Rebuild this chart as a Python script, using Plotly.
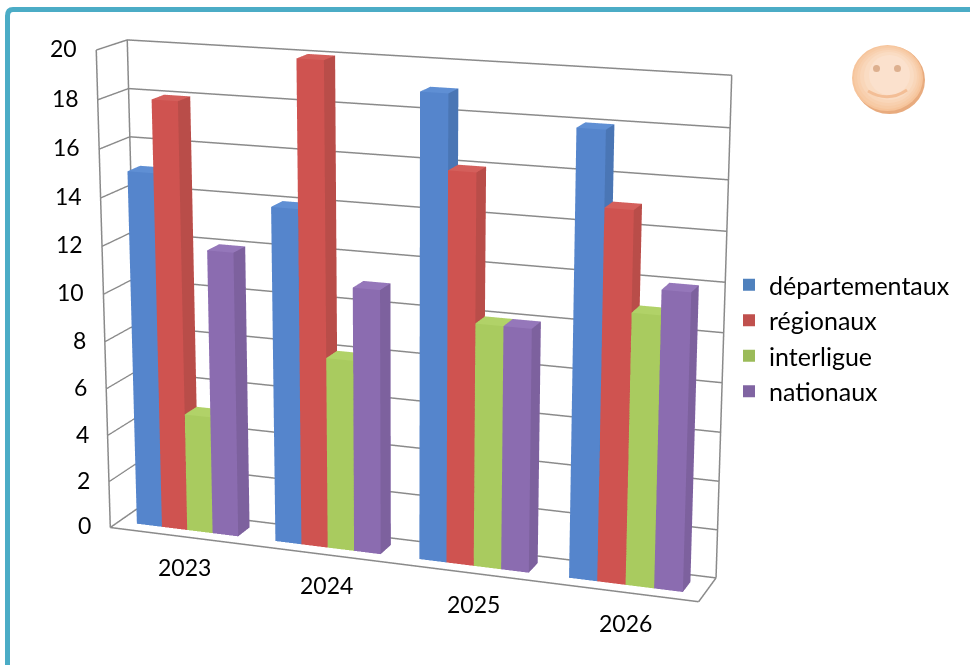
import math
import plotly.graph_objects as go

categories = ["2023", "2024", "2025", "2026"]
series_names = ["départementaux", "régionaux", "interligue", "nationaux"]
departementaux = [15, 14, 19, 18]
regionaux = [18, 20, 16, 15]
interligue = [5, 8, 10, 11]
nationaux = [12, 11, 10, 12]
z_ticks = [0, 2, 4, 6, 8, 10, 12, 14, 16, 18, 20]

series_values = [departementaux, regionaux, interligue, nationaux]
front = ["#5585CC", "#CF5350", "#A9CB5F", "#8B6CB0"]
side = ["#4A76B5", "#B94D49", "#97B655", "#7D619E"]
top = ["#5F8FD4", "#D45F5B", "#B1D268", "#9577BA"]
legend_col = ["#4F81BD", "#C0504D", "#9BBB59", "#8064A2"]
GAP = 0.265
BW = (1 - GAP) / 4
Y0, Y1 = 0.29, 0.71
FONT = "Lato"
GRID = "#8a8a8a"
ZMAX = z_ticks[-1]
NC = len(categories)

# The 3-D view has a long lens, so the plot area is larger than the window and is
# slid under it; page-pixel positions are converted to paper fractions with these.
PLOT_W, PLOT_H = 1200, 2212
OFF_X, OFF_Y = -195, -793
AZ, EL, DIST = 0.352, 0.255, 2.669


def px(x):
    return (x - OFF_X) / PLOT_W


def py(y):
    return 1 - (y - OFF_Y) / PLOT_H


def bar_mesh(s, cat, val):
    x0 = cat + GAP / 2 + s * BW
    x1 = x0 + BW
    xs = [x0, x1, x1, x0, x0, x1, x1, x0]
    ys = [Y0, Y0, Y1, Y1, Y0, Y0, Y1, Y1]
    zs = [0, 0, 0, 0, val, val, val, val]
    tri = [
        (0, 1, 5, front[s]), (0, 5, 4, front[s]),
        (1, 2, 6, side[s]), (1, 6, 5, side[s]),
        (4, 5, 6, top[s]), (4, 6, 7, top[s]),
        (3, 2, 6, front[s]), (3, 6, 7, front[s]),
        (0, 3, 7, front[s]), (0, 7, 4, front[s]),
    ]
    return go.Mesh3d(
        x=xs, y=ys, z=zs,
        i=[t[0] for t in tri], j=[t[1] for t in tri], k=[t[2] for t in tri],
        facecolor=[t[3] for t in tri], flatshading=True,
        lighting=dict(ambient=1, diffuse=0, specular=0, roughness=1, fresnel=0),
        hoverinfo="skip", showlegend=False, showscale=False,
    )


fig = go.Figure()
for s in range(4):
    for c in range(NC):
        fig.add_trace(bar_mesh(s, c, series_values[s][c]))

# frame of the box
edges = [
    ([0, NC], [0, 0], [0, 0]),
    ([NC, NC], [0, 1], [0, 0]),
    ([0, 0], [0, 1], [0, 0]),
    ([0, 0], [0, 0], [0, ZMAX]),
    ([0, 0], [1, 1], [0, ZMAX]),
    ([NC, NC], [1, 1], [0, ZMAX]),
    ([0, 0], [0, 1], [ZMAX, ZMAX]),
    ([0, NC], [1, 1], [ZMAX, ZMAX]),
    ([0, NC], [1, 1], [0, 0]),
]
for ex, ey, ez in edges:
    fig.add_trace(go.Scatter3d(x=ex, y=ey, z=ez, mode="lines",
                               line=dict(color=GRID, width=3),
                               hoverinfo="skip", showlegend=False))

# legend entries
for n, c in zip(series_names, legend_col):
    fig.add_trace(go.Scatter3d(x=[None], y=[None], z=[None], mode="markers", name=n,
                               marker=dict(symbol="square", size=18, color=c)))

annots = []
for t in z_ticks:
    annots.append(dict(x=0, y=0, z=t, text=str(t), showarrow=False, xanchor="right",
                       yanchor="middle", xshift=-17, yshift=2,
                       font=dict(family=FONT, size=23, color="#000")))
for i, c in enumerate(categories):
    annots.append(dict(x=i + 0.5, y=0, z=0, text=c, showarrow=False, xanchor="center",
                       yanchor="middle", xshift=6, yshift=-31,
                       font=dict(family=FONT, size=23, color="#000")))

axis = dict(showgrid=False, showline=False, zeroline=False, showticklabels=False, ticks="",
            showbackground=False, showspikes=False, title=dict(text=""), autorange=False)


def circle(x0, x1, y0, y1, col):
    return dict(type="circle", xref="paper", yref="paper", x0=px(x0), x1=px(x1),
                y0=py(y1), y1=py(y0), fillcolor=col, line_width=0)


fig.update_layout(
    width=PLOT_W, height=PLOT_H, margin=dict(l=0, r=0, t=0, b=0),
    paper_bgcolor="white",
    font=dict(family=FONT),
    legend=dict(x=px(729), y=py(338), yanchor="middle", xanchor="left", bgcolor="rgba(0,0,0,0)",
                font=dict(family=FONT, size=25, color="#000"), itemsizing="constant"),
    scene=dict(
        domain=dict(x=[0, 1], y=[0, 1]),
        aspectmode="manual",
        aspectratio=dict(x=0.634, y=0.0708, z=0.5056),
        xaxis=dict(axis, range=[0, NC]),
        yaxis=dict(axis, range=[0, 1]),
        zaxis=dict(axis, range=[0, ZMAX], showgrid=True, gridcolor=GRID, gridwidth=3, dtick=2),
        camera=dict(projection=dict(type="perspective"),
                    eye=dict(x=DIST * math.sin(AZ) * math.cos(EL),
                             y=-DIST * math.cos(AZ) * math.cos(EL),
                             z=DIST * math.sin(EL)),
                    up=dict(x=0, y=0, z=1)),
        annotations=annots,
    ),
    shapes=[
        dict(type="path", xref="paper", yref="paper",
             path=f"M {px(7.5)} {py(665)} L {px(7.5)} {py(16)} Q {px(7.5)} {py(9.5)} {px(13)} {py(9.5)} L {px(970)} {py(9.5)}",
             line=dict(color="#4BACC6", width=5)),
        circle(854, 925, 46, 114, "#E8AB7E"),
        circle(852, 923, 45, 111, "#F6C49B"),
        circle(854, 921, 46, 109, "#F7CBA6"),
        circle(857, 919, 48, 106, "#F8D0AF"),
        circle(860, 917, 50, 103, "#F9D6B9"),
        circle(864, 914, 52, 100, "#FADCC3"),
        circle(869, 910, 55, 95, "#FBE1CD"),
        circle(873, 880, 65, 72, "#DDB08F"),
        circle(894, 901, 65, 72, "#DDB08F"),
        dict(type="path", xref="paper", yref="paper",
             path=f"M {px(868)} {py(91)} Q {px(888)} {py(103)} {px(907)} {py(90)}",
             line=dict(color="#F3BE96", width=3)),
    ],
)
fig.write_html(
    "out.html", config=dict(displayModeBar=False),
    post_script=(
        "document.body.style.margin='0';document.body.style.overflow='hidden';"
        "document.documentElement.style.overflow='hidden';"
        "var g=document.getElementById('{plot_id}');g.style.position='absolute';"
        f"g.style.left='{OFF_X}px';g.style.top='{OFF_Y}px';"
    ),
)
